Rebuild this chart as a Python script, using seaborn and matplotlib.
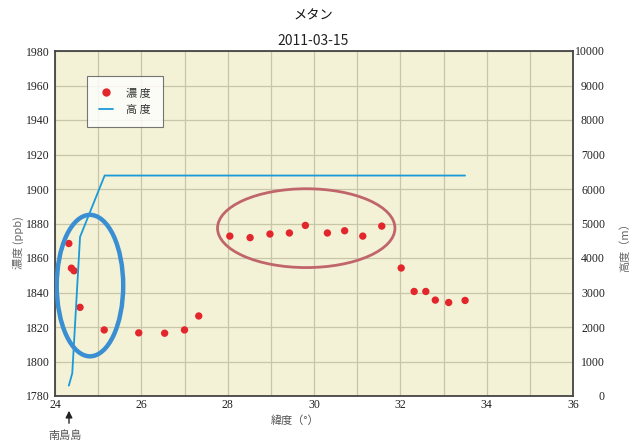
import matplotlib
matplotlib.use("Agg")
import matplotlib.pyplot as plt
from matplotlib.patches import Ellipse
from matplotlib.lines import Line2D
import seaborn as sns
import pandas as pd

# ---- data ----
conc_lat = [24.32, 24.38, 24.44, 24.58, 25.14, 25.94, 26.54, 27.00, 27.33,
            28.05, 28.52, 28.98, 29.43, 29.80, 30.31, 30.71, 31.13, 31.57,
            32.02, 32.32, 32.59, 32.81, 33.12, 33.50]
conc_ppb = [1868.4, 1854.1, 1852.6, 1831.4, 1818.3, 1816.6, 1816.4, 1818.3, 1826.4,
            1872.7, 1871.8, 1873.9, 1874.5, 1878.9, 1874.5, 1875.8, 1872.7, 1878.5,
            1854.2, 1840.6, 1840.6, 1835.6, 1834.2, 1835.4]
alt_lat = [24.32, 24.40, 24.58, 25.15, 33.50]
alt_m = [300, 660, 4610, 6390, 6390]
x_ticks = [24, 26, 28, 30, 32, 34, 36]
y_left_ticks = [1780, 1800, 1820, 1840, 1860, 1880, 1900, 1920, 1940, 1960, 1980]
y_right_ticks = [0, 1000, 2000, 3000, 4000, 5000, 6000, 7000, 8000, 9000, 10000]

sns.set_style("white")
plt.rcParams['font.family'] = ['Noto Sans CJK JP', 'DejaVu Sans']

df_c = pd.DataFrame({"lat": conc_lat, "ppb": conc_ppb})
df_a = pd.DataFrame({"lat": alt_lat, "alt": alt_m})

fig = plt.figure(figsize=(6.37, 4.43), dpi=100)
ax = fig.add_axes([55/637, 1-396/443, 518/637, 345/443])
ax.set_facecolor("#f3f1d6")
ax.set_xlim(24, 36)
ax.set_ylim(1780, 1980)
ax.set_xticks(range(24, 37))
ax.set_yticks(y_left_ticks)
ax.set_xticklabels([str(t) if t in x_ticks else "" for t in range(24, 37)])
ax.grid(True, color="#c9c6a8", linewidth=0.9)
ax.set_axisbelow(True)
for s in ax.spines.values():
    s.set_color("#444444")
    s.set_linewidth(1.3)

ax.tick_params(axis='y', length=0, pad=4, labelcolor="#222222")
ax.tick_params(axis='x', length=0, pad=2, labelcolor="#222222")
for lab in ax.get_xticklabels() + ax.get_yticklabels():
    lab.set_fontfamily('Liberation Serif')
    lab.set_fontsize(8.5)

ax2 = ax.twinx()
ax2.set_ylim(0, 10000)
ax2.set_yticks(y_right_ticks)
ax2.tick_params(axis='y', length=0, pad=23, labelcolor="#222222")
for lab in ax2.get_yticklabels():
    lab.set_fontfamily('Liberation Serif')
    lab.set_fontsize(8.5)
    lab.set_horizontalalignment('right')
for s in ax2.spines.values():
    s.set_visible(False)

sns.lineplot(data=df_a, x="lat", y="alt", ax=ax2, color="#1a9ad8", linewidth=1.3,
             sort=False, estimator=None)
sns.scatterplot(data=df_c, x="lat", y="ppb", ax=ax, color="#e3262c", s=28,
                edgecolor="none", zorder=3)
ax.set_xlabel("")
ax.set_ylabel("")
ax2.set_xlabel("")
ax2.set_ylabel("")

# ellipses
e1 = Ellipse((24.81, 1844.0), 1.54, 82.0, transform=ax.transData, fill=False,
             edgecolor="#3a8fd2", linewidth=3.2, zorder=5)
e2 = Ellipse((29.82, 1877.3), 4.11, 45.7, transform=ax.transData, fill=False,
             edgecolor="#c0666a", linewidth=2.0, zorder=5)
ax2.add_patch(e1)
ax2.add_patch(e2)

# legend
handles = [Line2D([], [], marker='o', linestyle='none', color="#e3262c", markersize=5),
           Line2D([], [], color="#1a9ad8", linewidth=1.3)]
leg = ax2.legend(handles, ["濃 度", "高 度"], loc="upper left",
                 bbox_to_anchor=(32/518, 320/345), borderaxespad=0, frameon=True,
                 fancybox=False, fontsize=8, handlelength=1.2, borderpad=1.1,
                 labelspacing=0.6, handletextpad=1.2)
leg.get_frame().set_edgecolor("#555555")
leg.get_frame().set_linewidth(0.8)
for t in leg.get_texts():
    t.set_color("#333333")

# titles and labels
fig.text(313/637, 1-16/443, "メタン", ha="center", va="center", fontsize=9.5, color="#111111")
fig.text(313/637, 1-41/443, "2011-03-15", ha="center", va="center", fontsize=10, color="#222222")
fig.text(18/637, 1-243/443, "濃度 (ppb)", ha="center", va="center", rotation=90,
         fontsize=8, color="#666666")
fig.text(625/637, 1-245/443, "高度（m）", ha="center", va="center", rotation=90,
         fontsize=8, color="#666666")
fig.text(295/637, 1-421/443, "緯度（°）", ha="center", va="center", fontsize=8, color="#555555")
fig.text(65/637, 1-436/443, "南島島", ha="center", va="center", fontsize=8, color="#555555")
fig.patches.append(matplotlib.patches.FancyArrowPatch(
    (69/637, 1-426/443), (69/637, 1-408/443), transform=fig.transFigure,
    arrowstyle="-|>,head_length=4,head_width=2", color="#222222", linewidth=1.0,
    mutation_scale=1))

fig.savefig("out.png", dpi=100, facecolor="white")
